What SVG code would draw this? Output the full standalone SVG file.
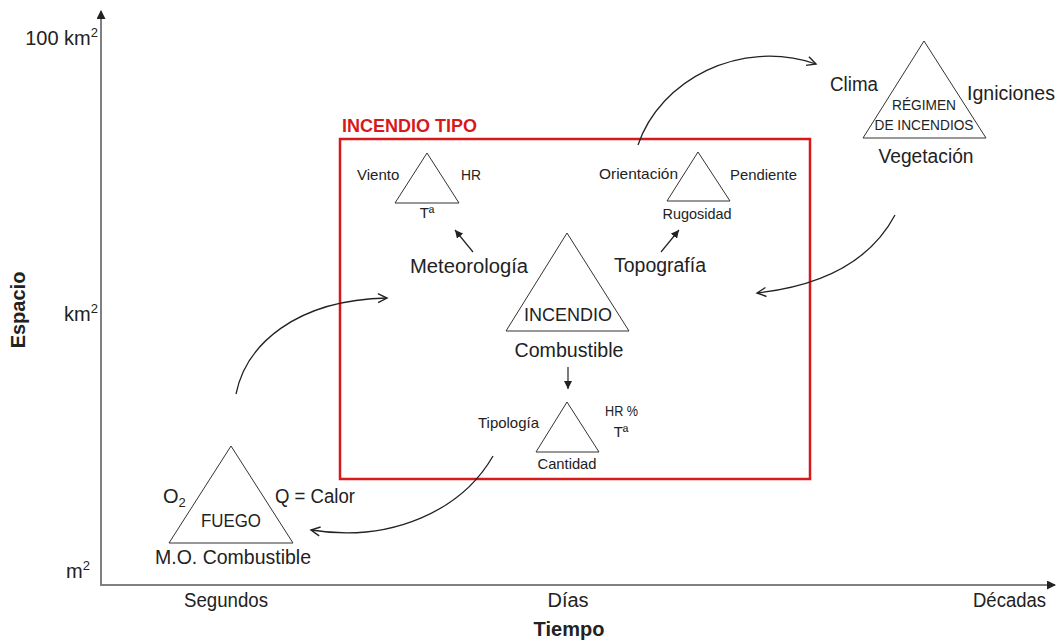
<svg xmlns="http://www.w3.org/2000/svg" width="1057" height="642" viewBox="0 0 1057 642">
<style>
text{font-family:"Liberation Sans",Arial,sans-serif;fill:#222}
.tri{fill:none;stroke:#333;stroke-width:1}
.curve{fill:none;stroke:#222;stroke-width:1.3}
.s15{font-size:15px}
.s19{font-size:20px}
.s14{font-size:14px}
.bold{font-weight:bold}
.mid{text-anchor:middle}
.end{text-anchor:end}
</style>
<defs>
<marker id="open" markerWidth="12" markerHeight="12" refX="10" refY="5" orient="auto" markerUnits="userSpaceOnUse" viewBox="0 0 12 10">
<path d="M1,0.5 L10,5 L1,9.5" fill="none" stroke="#222" stroke-width="1.4"/>
</marker>
<marker id="solid" markerWidth="8" markerHeight="8" refX="8" refY="4" orient="auto" markerUnits="userSpaceOnUse" viewBox="0 0 8 8">
<path d="M0,0 L8,4 L0,8 Z" fill="#222"/>
</marker>
<marker id="axis" markerWidth="9" markerHeight="9" refX="8" refY="4.5" orient="auto" markerUnits="userSpaceOnUse" viewBox="0 0 9 9">
<path d="M0,0 L9,4.5 L0,9 Z" fill="#222"/>
</marker>
</defs>
<rect width="1057" height="642" fill="#fff"/>

<g id="axes">
<line x1="101" y1="585" x2="101" y2="11" stroke="#808080" stroke-width="2" marker-end="url(#axis)"/>
<line x1="100" y1="585" x2="1055" y2="585" stroke="#808080" stroke-width="2" marker-end="url(#axis)"/>
<text class="s19 end" x="98" y="45">100 km<tspan font-size="13" dy="-8">2</tspan></text>
<text class="s19 end" x="98" y="321">km<tspan font-size="13" dy="-8">2</tspan></text>
<text class="s19 end" x="90" y="578">m<tspan font-size="13" dy="-8">2</tspan></text>
<text class="s19 bold mid" transform="translate(25,310) rotate(-90)">Espacio</text>
<text class="s19" x="184" y="607" textLength="84" lengthAdjust="spacingAndGlyphs">Segundos</text>
<text class="s19 mid" x="568" y="607">Días</text>
<text class="s19" x="973" y="607" textLength="73" lengthAdjust="spacingAndGlyphs">Décadas</text>
<text class="bold mid" font-size="20" x="569" y="636">Tiempo</text>
</g>

<g id="incendio-tipo">
<rect x="340" y="139" width="470" height="340" fill="none" stroke="#d7191c" stroke-width="2.5"/>
<text class="bold" font-size="18" x="342" y="132" style="fill:#d7191c" textLength="135" lengthAdjust="spacingAndGlyphs">INCENDIO TIPO</text>
</g>

<g id="meteorologia-tri">
<path class="tri" d="M427,153 L395,203 L459,203 Z"/>
<text class="s15" x="357" y="180">Viento</text>
<text class="s15" x="461" y="180" textLength="20" lengthAdjust="spacingAndGlyphs">HR</text>
<text class="s15 mid" x="427" y="218">Tª</text>
</g>

<g id="topografia-tri">
<path class="tri" d="M698,152 L667,201 L730,201 Z"/>
<text class="s15" x="599" y="179" textLength="79" lengthAdjust="spacingAndGlyphs">Orientación</text>
<text class="s15" x="730" y="180" textLength="67" lengthAdjust="spacingAndGlyphs">Pendiente</text>
<text class="s15 mid" x="697" y="219" textLength="69" lengthAdjust="spacingAndGlyphs">Rugosidad</text>
</g>

<g id="incendio">
<path class="tri" d="M567,233 L506,331 L629,331 Z"/>
<text class="mid" font-size="19" x="568" y="321" textLength="88" lengthAdjust="spacingAndGlyphs">INCENDIO</text>
<text class="s19" x="410" y="273" textLength="118" lengthAdjust="spacingAndGlyphs">Meteorología</text>
<text class="s19" x="614" y="272" textLength="92" lengthAdjust="spacingAndGlyphs">Topografía</text>
<text class="s19 mid" x="569" y="357" textLength="109" lengthAdjust="spacingAndGlyphs">Combustible</text>
</g>

<g id="combustible-tri">
<path class="tri" d="M567,402 L536,452 L599,452 Z"/>
<text class="s15" x="478" y="428" textLength="61" lengthAdjust="spacingAndGlyphs">Tipología</text>
<text class="s15" x="605" y="416" textLength="33" lengthAdjust="spacingAndGlyphs">HR %</text>
<text class="s15 mid" x="621" y="437">Tª</text>
<text class="s15 mid" x="567" y="469" textLength="59" lengthAdjust="spacingAndGlyphs">Cantidad</text>
</g>

<g id="fuego">
<path class="tri" d="M231,446 L169,543 L293,543 Z"/>
<text class="mid" font-size="19" x="231" y="527" textLength="60" lengthAdjust="spacingAndGlyphs">FUEGO</text>
<text class="s19" x="163" y="503">O<tspan font-size="13" dy="4">2</tspan></text>
<text class="s19" x="275" y="503" textLength="80" lengthAdjust="spacingAndGlyphs">Q = Calor</text>
<text class="s19" x="155" y="564" textLength="156" lengthAdjust="spacingAndGlyphs">M.O. Combustible</text>
</g>

<g id="regimen">
<path class="tri" d="M924,41 L863,138 L986,138 Z"/>
<text class="s14 mid" x="924" y="110" textLength="64" lengthAdjust="spacingAndGlyphs">RÉGIMEN</text>
<text class="s14 mid" x="924" y="130" textLength="99" lengthAdjust="spacingAndGlyphs">DE INCENDIOS</text>
<text class="s19" x="830" y="91" textLength="48" lengthAdjust="spacingAndGlyphs">Clima</text>
<text class="s19" x="967" y="100" textLength="88" lengthAdjust="spacingAndGlyphs">Igniciones</text>
<text class="s19 mid" x="926" y="163" textLength="95" lengthAdjust="spacingAndGlyphs">Vegetación</text>
</g>

<g id="connectors">
<line x1="473" y1="252" x2="455" y2="230" stroke="#222" stroke-width="1.2" marker-end="url(#solid)"/>
<line x1="661" y1="252" x2="679" y2="230" stroke="#222" stroke-width="1.2" marker-end="url(#solid)"/>
<line x1="568" y1="367" x2="568" y2="389" stroke="#222" stroke-width="1.2" marker-end="url(#solid)"/>
<path class="curve" d="M236,394 C246,345 295,300 387,298" marker-end="url(#open)"/>
<path class="curve" d="M638,145 C660,80 740,38 816,64" marker-end="url(#open)"/>
<path class="curve" d="M895,215 C870,262 820,286 757,293" marker-end="url(#open)"/>
<path class="curve" d="M493,456 C462,510 392,543 311,530" marker-end="url(#open)"/>
</g>
</svg>
